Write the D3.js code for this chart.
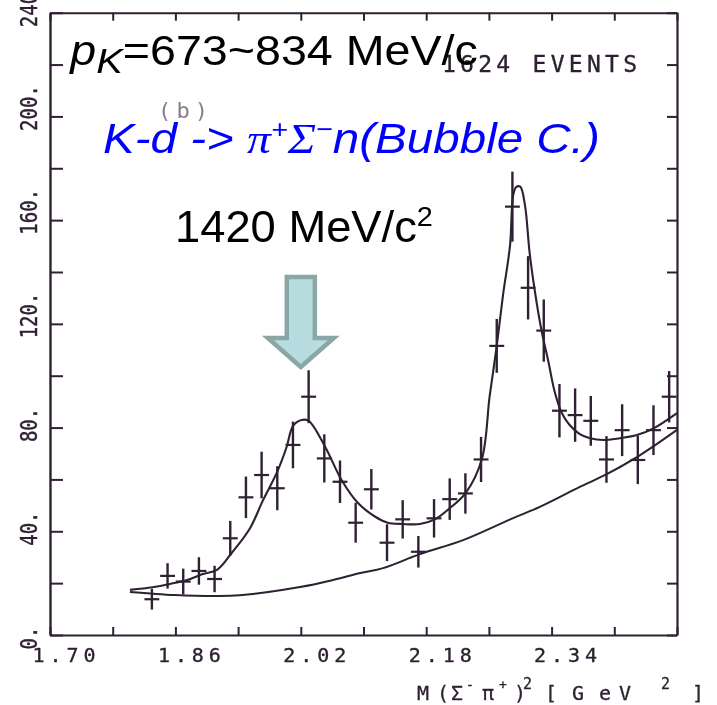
<!DOCTYPE html>
<html>
<head>
<meta charset="utf-8">
<script src="https://cdn.jsdelivr.net/npm/d3@7"></script>
<style>
  html, body { margin: 0; padding: 0; background: #fff; }
  svg { display: block; }
</style>
</head>
<body>
<svg id="chart" width="717" height="705"></svg>
<script>
// Σ⁻π⁺ invariant mass squared, K⁻d → π⁺Σ⁻n, 0.02 GeV² bins
const binCenters = [1.83, 1.85, 1.87, 1.89, 1.91, 1.93, 1.95, 1.97, 1.99, 2.01, 2.03,
                    2.05, 2.07, 2.09, 2.11, 2.13, 2.15, 2.17, 2.19, 2.21, 2.23, 2.25,
                    2.27, 2.29, 2.31, 2.33, 2.35, 2.37, 2.39, 2.41, 2.43, 2.45, 2.47, 2.49];
const counts = [13.8, 22.8, 20.6, 24.7, 21.6, 37.3, 53.1, 61.7, 56.6, 73.3, 91.9,
                68.1, 59.1, 43.3, 56.2, 35.6, 44.6, 32.1, 45.0, 52.4, 54.6, 67.7,
                111.5, 165.2, 133.9, 117.4, 86.5, 84.8, 82.6, 67.7, 79.0, 67.5, 79.0, 91.9];
const errors = [4.0, 4.9, 5.0, 5.3, 5.1, 6.7, 8.0, 9.0, 8.5, 9.0, 10.2,
                9.3, 8.2, 7.7, 7.8, 7.1, 7.4, 6.1, 7.4, 8.0, 7.8, 8.7,
                10.4, 13.5, 12.2, 12.0, 10.3, 10.3, 9.6, 9.0, 10.0, 9.3, 9.6, 9.9];

// fitted curve (resonances + background)
const fitMass = [1.802, 1.831, 1.853, 1.875, 1.895, 1.913, 1.933, 1.955, 1.972, 1.990,
                 2.002, 2.010, 2.021, 2.030, 2.051, 2.072, 2.093, 2.115, 2.131, 2.150,
                 2.172, 2.191, 2.210, 2.230, 2.251, 2.261, 2.270, 2.278, 2.287, 2.291,
                 2.295, 2.300, 2.306, 2.312, 2.319, 2.327, 2.336, 2.344, 2.353, 2.363,
                 2.376, 2.389, 2.406, 2.427, 2.449, 2.470, 2.500];
const fitCounts = [17.4, 18.4, 19.7, 21.2, 23.5, 25.1, 32.1, 41.1, 52.1, 63.0,
                   72.6, 80.6, 82.9, 82.6, 72.6, 59.8, 50.9, 45.6, 43.3, 42.8,
                   42.8, 44.6, 48.9, 54.6, 67.8, 92.2, 111.5, 131.1, 150.4, 169.7,
                   172.8, 172.9, 165.8, 147.3, 131.9, 117.6, 105.3, 93.7, 85.6, 81.0,
                   77.5, 75.9, 75.2, 75.9, 77.1, 79.7, 85.6];

// background component
const bgMass = [1.802, 1.859, 1.913, 1.942, 2.019, 2.061, 2.096, 2.125, 2.172, 2.227,
                2.291, 2.325, 2.376, 2.411, 2.453, 2.500];
const bgCounts = [16.6, 15.4, 15.0, 15.3, 18.5, 21.2, 23.9, 25.8, 31.2, 36.6,
                  45.1, 49.4, 57.1, 62.1, 69.4, 79.1];

const xTicks = [1.70, 1.78, 1.86, 1.94, 2.02, 2.10, 2.18, 2.26, 2.34, 2.42, 2.50];
const xTickLabels = ["1.70", "1.86", "2.02", "2.18", "2.34"];
const yTicks = [0, 20, 40, 60, 80, 100, 120, 140, 160, 180, 200, 220, 240];
const yTickLabels = ["0.", "40.", "80.", "120.", "160.", "200.", "240."];

const arrowAt = 2.02;      // (1.42 GeV)²
const binHalf = 0.0095;

const INK = "#2f2033";
const MONO = "'DejaVu Sans Mono', monospace";
const SANS = "'Liberation Sans', Arial, sans-serif";
const SERIF = "'Liberation Serif', 'Times New Roman', serif";

const svg = d3.select("#chart");
svg.append("rect").attr("width", 717).attr("height", 705).attr("fill", "#fff");

const defs = svg.append("defs");
defs.append("filter").attr("id", "soft")
  .append("feGaussianBlur").attr("stdDeviation", 0.45);

const x = d3.scaleLinear().domain([1.70, 2.50]).range([50, 677]);
const y = d3.scaleLinear().domain([0, 240]).range([635, 12.7]);

const plot = svg.append("g").attr("filter", "url(#soft)");

// ---- frame with inward ticks on all four sides ----
function styleAxis(g, width) {
  g.attr("font-family", null).attr("font-size", null);
  g.select(".domain").attr("stroke", INK).attr("stroke-width", width);
  g.selectAll(".tick line").attr("stroke", INK).attr("stroke-width", 2);
}

const xLabelSet = new Set(xTickLabels);
const axisB = plot.append("g").attr("transform", `translate(0,${y(0)})`)
  .call(d3.axisBottom(x).tickValues(xTicks).tickSizeInner(-8).tickSizeOuter(0)
    .tickFormat(d => xLabelSet.has(d.toFixed(2)) ? d.toFixed(2) : ""));
styleAxis(axisB, 2.2);
axisB.selectAll(".tick text")
  .attr("x", -18).attr("y", 27).attr("dy", null)
  .attr("text-anchor", "start")
  .attr("font-family", MONO).attr("font-size", 20)
  .attr("fill", INK).attr("stroke", INK).attr("stroke-width", 0.35)
  .each(function () {
    if (this.textContent) d3.select(this).attr("textLength", 63).attr("lengthAdjust", "spacing");
  });

const axisT = plot.append("g").attr("transform", `translate(0,${y(240)})`)
  .call(d3.axisTop(x).tickValues(xTicks).tickSizeInner(-8).tickSizeOuter(0).tickFormat(""));
styleAxis(axisT, 2);

const yLabelSet = new Set(yTickLabels);
const axisL = plot.append("g").attr("transform", `translate(${x(1.70)},0)`)
  .call(d3.axisLeft(y).tickValues(yTicks).tickSizeInner(-13).tickSizeOuter(0)
    .tickFormat(d => yLabelSet.has(d + ".") ? d + "." : ""));
styleAxis(axisL, 2.4);
axisL.selectAll(".tick text")
  .attr("x", 0).attr("y", 0).attr("dy", null)
  .attr("text-anchor", "start")
  .attr("transform", "translate(-13,14) rotate(-90) scale(1,1.25)")
  .attr("font-family", MONO).attr("font-size", 19)
  .attr("fill", INK).attr("stroke", INK).attr("stroke-width", 0.35);

const axisR = plot.append("g").attr("transform", `translate(${x(2.50)},0)`)
  .call(d3.axisRight(y).tickValues(yTicks).tickSizeInner(-10).tickSizeOuter(0).tickFormat(""));
styleAxis(axisR, 2.2);

// ---- curves ----
const line = d3.line()
  .x(d => x(d[0])).y(d => y(d[1]))
  .curve(d3.curveCatmullRom.alpha(0.5));

plot.append("path")
  .attr("d", line(bgMass.map((m, i) => [m, bgCounts[i]])))
  .attr("fill", "none").attr("stroke", INK).attr("stroke-width", 2);

plot.append("path")
  .attr("d", line(fitMass.map((m, i) => [m, fitCounts[i]])))
  .attr("fill", "none").attr("stroke", INK).attr("stroke-width", 2.1);

// ---- data points with error bars ----
const pts = plot.append("g").attr("stroke", INK);
binCenters.forEach((m, i) => {
  pts.append("line")
    .attr("x1", x(m)).attr("x2", x(m))
    .attr("y1", y(counts[i] - errors[i])).attr("y2", y(counts[i] + errors[i]))
    .attr("stroke-width", 2.4);
  pts.append("line")
    .attr("x1", x(m - binHalf)).attr("x2", x(m + binHalf))
    .attr("y1", y(counts[i])).attr("y2", y(counts[i]))
    .attr("stroke-width", 2.2);
});

// ---- plot annotations ----
plot.append("text")
  .attr("x", 442).attr("y", 72)
  .attr("font-family", MONO).attr("font-size", 23).attr("fill", INK)
  .attr("stroke", INK).attr("stroke-width", 0.35)
  .attr("textLength", 195).attr("lengthAdjust", "spacing")
  .text("1624 EVENTS");

plot.append("text")
  .attr("x", 158).attr("y", 118)
  .attr("font-family", MONO).attr("font-size", 22).attr("fill", "#8a7c8c")
  .attr("textLength", 50).attr("lengthAdjust", "spacing")
  .text("(b)");

// axis title M(Σ⁻π⁺)² [GeV²]
const titleParts = [
  ["M", 417, 0, 20], ["(", 437, 0, 20], ["Σ", 451, 0, 20], ["-", 466, -11, 13],
  ["π", 482, 0, 20], ["+", 499, -11, 13], [")", 514, 0, 20], ["2", 523, -11, 15],
  ["[", 545, 0, 20], ["G", 572, 0, 20], ["e", 599, 0, 20], ["V", 619, 0, 20],
  ["2", 661, -11, 15], ["]", 692, 0, 20]
];
const title = plot.append("text").attr("font-family", MONO).attr("fill", INK)
  .attr("stroke", INK).attr("stroke-width", 0.3);
titleParts.forEach(([s, px, dy, fs]) => {
  title.append("tspan").attr("x", px).attr("y", 700 + dy).attr("font-size", fs).text(s);
});

// ---- overlay labels ----
const overlay = svg.append("g");

function fitTo(sel, leftEdge, baseline, width) {
  const bb = sel.node().getBBox();
  const s = width / bb.width;
  sel.attr("transform", `translate(${leftEdge - bb.x * s},${baseline}) scale(${s},1)`);
}

const t1 = overlay.append("text").attr("font-family", SANS).attr("font-size", 42).attr("fill", "#000");
t1.append("tspan").attr("font-style", "italic").text("p");
t1.append("tspan").attr("font-style", "italic").attr("font-size", 36).attr("dy", 8).text("K");
t1.append("tspan").attr("dy", -8).text("=673~834 MeV/c");
fitTo(t1, 68, 65, 410);

const t2 = overlay.append("text").attr("font-family", SANS).attr("font-size", 43)
  .attr("font-style", "italic").attr("fill", "#0000ff");
t2.append("tspan").text("K-d -> ");
t2.append("tspan").attr("font-family", SERIF).text("π");
t2.append("tspan").attr("font-size", 26).attr("dy", -15).text("+");
t2.append("tspan").attr("font-family", SERIF).attr("dy", 15).text("Σ");
t2.append("tspan").attr("font-size", 26).attr("dy", -15).text("−");
t2.append("tspan").attr("dy", 15).text("n(Bubble C.)");
fitTo(t2, 103, 153, 497);

const t3 = overlay.append("text").attr("font-family", SANS).attr("font-size", 44).attr("fill", "#000");
t3.append("tspan").text("1420 MeV/c");
t3.append("tspan").attr("font-size", 28).attr("dy", -16).text("2");
fitTo(t3, 175, 242, 258);

// block arrow pointing at the 1420 MeV/c² peak
const ax = x(arrowAt);
const arrow = [
  [ax - 14, 277], [ax + 14, 277], [ax + 14, 338], [ax + 33, 338],
  [ax, 367], [ax - 33, 338], [ax - 14, 338]
];
overlay.append("path")
  .attr("d", d3.line()(arrow) + "Z")
  .attr("fill", "#b8dde0").attr("stroke", "#8aa6a6").attr("stroke-width", 4.5)
  .attr("stroke-linejoin", "miter");
</script>
</body>
</html>
